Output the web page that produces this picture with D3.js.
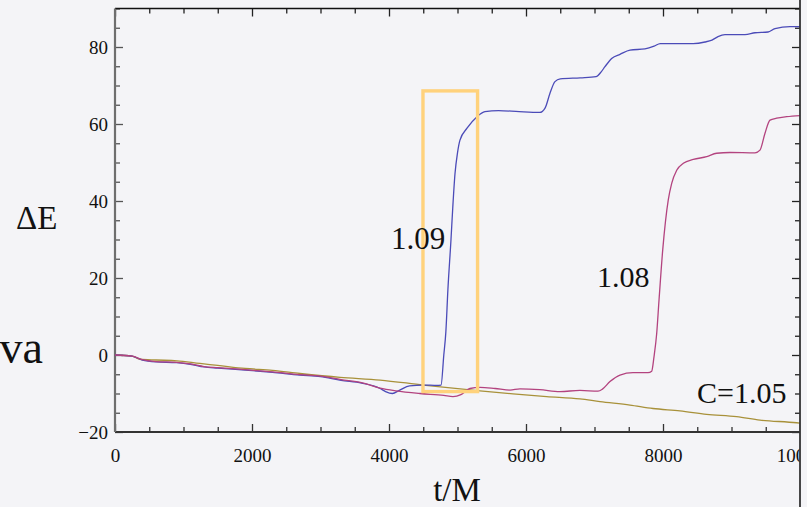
<!DOCTYPE html>
<html>
<head>
<meta charset="utf-8">
<script src="https://cdn.jsdelivr.net/npm/d3@7"></script>
<style>
  html, body { margin: 0; padding: 0; background: #f4f4f7; }
  svg { display: block; }
  text { font-family: "Liberation Serif", "DejaVu Serif", serif; fill: #111; }
</style>
</head>
<body>
<div id="chart"></div>
<script>
// runs, as [t/M, ΔE] pairs
const run109 = [
  [0, 0], [250, -0.3], [400, -1.3], [600, -1.8], [900, -2.0], [1100, -2.4],
  [1300, -3.1], [1500, -3.4], [1900, -3.9], [2300, -4.5], [2700, -5.2],
  [3000, -5.6], [3300, -6.6], [3600, -7.3], [3870, -8.7], [3950, -9.5],
  [4050, -10.0], [4150, -9.2], [4300, -8.0], [4500, -7.8], [4700, -7.9],
  [4760, -7.8], [4800, 0], [4830, 6], [4860, 17], [4905, 30], [4930, 38],
  [4963, 47], [5000, 52.5], [5036, 55.8], [5139, 58.9], [5285, 61.9],
  [5400, 63.2], [5600, 63.5], [5900, 63.2], [6200, 63.0], [6280, 64.2],
  [6350, 68], [6423, 71], [6500, 71.7], [6790, 72.0], [7022, 72.3],
  [7100, 73.6], [7153, 74.9], [7255, 77.1], [7372, 78.1], [7518, 79.2],
  [7737, 79.5], [7870, 80.2], [7960, 80.9], [8440, 80.9], [8613, 81.3],
  [8715, 81.8], [8803, 82.7], [8905, 83.2], [9197, 83.2], [9343, 83.7],
  [9533, 83.9], [9635, 84.8], [9854, 85.3], [10000, 85.3]
];
const run108 = [
  [0, 0], [250, -0.3], [400, -1.2], [600, -1.7], [900, -1.9], [1100, -2.3],
  [1300, -3.0], [1500, -3.3], [1900, -3.8], [2300, -4.4], [2700, -5.1],
  [3000, -5.5], [3300, -6.4], [3600, -7.2], [3870, -8.6], [4100, -9.3],
  [4450, -10.0], [4800, -10.5], [4934, -10.8], [5050, -10.3], [5182, -8.7],
  [5330, -8.4], [5550, -8.7], [5766, -9.1], [5912, -8.8], [6200, -9.0],
  [6496, -9.5], [6788, -9.2], [7051, -9.4], [7120, -8.8], [7226, -6.9],
  [7372, -5.2], [7562, -4.6], [7781, -4.6], [7835, -4.2], [7869, -0.4],
  [7908, 5.6], [7942, 14.3], [7996, 27.3], [8077, 40.3], [8127, 44.6],
  [8200, 48], [8297, 49.8], [8443, 50.8], [8638, 51.5], [8783, 52.4],
  [8978, 52.6], [9343, 52.5], [9416, 53.2], [9489, 57.6], [9562, 61.0],
  [9659, 61.5], [9805, 61.9], [10000, 62.2]
];
const run105 = [
  [0, 0], [250, -0.3], [365, -1.1], [600, -1.3], [905, -1.5], [1240, -2.2],
  [1500, -2.7], [1900, -3.5], [2300, -4.0], [2700, -4.8], [3285, -5.8],
  [3870, -6.5], [4500, -7.8], [5328, -9.3], [5810, -10.1], [6302, -10.8],
  [6788, -11.4], [7080, -12.1], [7518, -13.0], [7854, -13.9], [8248, -14.5],
  [8637, -15.4], [9075, -16.0], [9416, -16.9], [9951, -17.6], [10000, -17.7]
];
const xTicks = [0, 2000, 4000, 6000, 8000, 10000];
const yTicks = [-20, 0, 20, 40, 60, 80];
// highlighted window around the 1.09 jump
const boxT = [4496, 5293];
const boxE = [-9.5, 68.6];

const serif = "Liberation Serif, DejaVu Serif, serif";
const width = 807, height = 507;
const x = d3.scaleLinear().domain([0, 10000]).range([115, 800]);
const y = d3.scaleLinear().domain([-20, 90]).range([432, 8.5]);

const svg = d3.select("#chart").append("svg")
  .attr("width", width)
  .attr("height", height);

svg.append("defs").append("clipPath").attr("id", "crop")
  .append("rect").attr("x", 0).attr("y", 0).attr("width", 800).attr("height", height);

const g = svg.append("g").attr("clip-path", "url(#crop)");

// minor ticks
const minorX = d3.range(0, 10001, 500).filter(v => v % 2000 !== 0);
const minorY = d3.range(-20, 91, 5).filter(v => v % 20 !== 0);

function styleAxis(sel, col) {
  sel.select(".domain").remove();
  sel.selectAll(".tick line").attr("stroke", col).attr("stroke-width", 1.3);
  sel.selectAll(".tick text").attr("font-size", 19).attr("font-family", serif).attr("fill", "#111");
}

// bottom
g.append("g").attr("transform", `translate(0,${y(-20)})`)
  .call(d3.axisBottom(x).tickValues(xTicks).tickSize(-8).tickPadding(17).tickFormat(d3.format("d")))
  .call(s => styleAxis(s, "#333"));
g.append("g").attr("transform", `translate(0,${y(-20)})`)
  .call(d3.axisBottom(x).tickValues(minorX).tickSize(-5).tickFormat(""))
  .call(s => styleAxis(s, "#333"));
// top
g.append("g").attr("transform", `translate(0,${y(90)})`)
  .call(d3.axisTop(x).tickValues(xTicks).tickSize(-8).tickFormat(""))
  .call(s => styleAxis(s, "#222"));
g.append("g").attr("transform", `translate(0,${y(90)})`)
  .call(d3.axisTop(x).tickValues(minorX).tickSize(-5).tickFormat(""))
  .call(s => styleAxis(s, "#222"));
// left
g.append("g").attr("transform", `translate(${x(0)},0)`)
  .call(d3.axisLeft(y).tickValues(yTicks).tickSize(-8).tickPadding(7).tickFormat(d => d < 0 ? "\u2212" + Math.abs(d) : d))
  .call(s => styleAxis(s, "#555"));
g.append("g").attr("transform", `translate(${x(0)},0)`)
  .call(d3.axisLeft(y).tickValues(minorY).tickSize(-5).tickFormat(""))
  .call(s => styleAxis(s, "#555"));
// right
g.append("g").attr("transform", `translate(${x(10000)},0)`)
  .call(d3.axisRight(y).tickValues(yTicks).tickSize(-8).tickFormat(""))
  .call(s => styleAxis(s, "#222"));
g.append("g").attr("transform", `translate(${x(10000)},0)`)
  .call(d3.axisRight(y).tickValues(minorY).tickSize(-5).tickFormat(""))
  .call(s => styleAxis(s, "#222"));

// frame
g.append("line").attr("x1", x(0)).attr("x2", 800).attr("y1", y(90)).attr("y2", y(90))
  .attr("stroke", "#111").attr("stroke-width", 1.5);
g.append("line").attr("x1", x(0)).attr("x2", 800).attr("y1", y(-20)).attr("y2", y(-20))
  .attr("stroke", "#333").attr("stroke-width", 2);
g.append("line").attr("x1", x(0)).attr("x2", x(0)).attr("y1", y(90)).attr("y2", y(-20))
  .attr("stroke", "#6e6e6e").attr("stroke-width", 2.2);

// curves
const line = d3.line()
  .x(d => x(d[0]))
  .y(d => y(d[1]))
  .curve(d3.curveMonotoneX);

const series = [
  { data: run105, color: "#a8913a" },
  { data: run109, color: "#4b4bb8" },
  { data: run108, color: "#b3437f" }
];
g.selectAll("path.run")
  .data(series)
  .join("path")
  .attr("class", "run")
  .attr("d", d => line(d.data))
  .attr("fill", "none")
  .attr("stroke", d => d.color)
  .attr("stroke-width", 1.3);

// highlight box
g.append("rect")
  .attr("x", x(boxT[0]))
  .attr("y", y(boxE[1]))
  .attr("width", x(boxT[1]) - x(boxT[0]))
  .attr("height", y(boxE[0]) - y(boxE[1]))
  .attr("fill", "none")
  .attr("stroke", "#ffd27c")
  .attr("stroke-width", 3.4);

// labels
const lab = (tx, ty, size, str, anchor) => g.append("text")
  .attr("x", tx).attr("y", ty)
  .attr("font-family", serif)
  .attr("font-size", size)
  .attr("text-anchor", anchor || "start")
  .text(str);

lab(391, 249, 31, "1.09");
lab(597, 287, 30, "1.08");
lab(697, 403, 30, "C=1.05");
lab(16, 229, 33, "\u0394E");
lab(457, 501, 33, "t/M", "middle");
lab(43, 363, 46, "va", "end");

// crop edge
svg.append("line").attr("x1", 800).attr("x2", 800).attr("y1", 0).attr("y2", height)
  .attr("stroke", "#333").attr("stroke-width", 1.8);
</script>
</body>
</html>
